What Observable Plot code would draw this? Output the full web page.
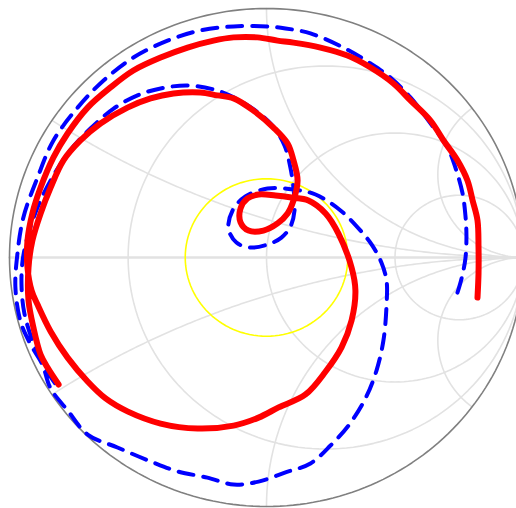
<!DOCTYPE html>
<html>
<head>
<meta charset="utf-8">
<script src="https://cdn.jsdelivr.net/npm/d3@7"></script>
<script src="https://cdn.jsdelivr.net/npm/@observablehq/plot@0.6"></script>
<style>
html, body { margin: 0; padding: 0; background: #fff; overflow: hidden; }
#chart svg { overflow: hidden; display: block; }
</style>
</head>
<body>
<div id="chart"></div>
<script>
const redRe = [0.821,0.825,0.825,0.821,0.802,0.782,0.743,0.689,0.638,0.560,0.494,0.405,0.315,0.210,0.105,0.043,-0.035,-0.128,-0.206,-0.307,-0.412,-0.518,-0.607,-0.696,-0.774,-0.829,-0.879,-0.911,-0.930,-0.930,-0.914,-0.891,-0.840,-0.774,-0.696,-0.626,-0.541,-0.412,-0.268,-0.128,-0.031,0.047,0.152,0.230,0.292,0.331,0.346,0.331,0.280,0.230,0.163,0.097,0.035,-0.031,-0.074,-0.101,-0.101,-0.070,-0.012,0.043,0.082,0.105,0.121,0.105,0.082,0.027,-0.051,-0.128,-0.191,-0.257,-0.362,-0.451,-0.541,-0.646,-0.724,-0.790,-0.840,-0.879,-0.911,-0.926,-0.926,-0.907,-0.879,-0.852,-0.809];
const redIm = [-0.161,-0.064,0.040,0.149,0.229,0.309,0.390,0.470,0.550,0.631,0.699,0.763,0.811,0.843,0.863,0.871,0.884,0.884,0.871,0.843,0.803,0.751,0.683,0.602,0.498,0.402,0.281,0.177,0.068,-0.040,-0.133,-0.189,-0.297,-0.402,-0.498,-0.566,-0.618,-0.667,-0.687,-0.675,-0.643,-0.602,-0.550,-0.458,-0.361,-0.253,-0.133,-0.040,0.096,0.177,0.229,0.241,0.249,0.253,0.237,0.197,0.141,0.108,0.108,0.137,0.177,0.229,0.309,0.390,0.458,0.522,0.590,0.639,0.651,0.663,0.659,0.639,0.602,0.538,0.470,0.390,0.281,0.177,0.068,-0.040,-0.173,-0.281,-0.390,-0.442,-0.510];

const blueRe = [0.743,0.759,0.774,0.778,0.774,0.763,0.735,0.704,0.630,0.560,0.482,0.405,0.307,0.171,0.074,0.004,-0.128,-0.257,-0.385,-0.518,-0.634,-0.735,-0.829,-0.891,-0.946,-0.969,-0.977,-0.957,-0.918,-0.872,-0.840,-0.774,-0.696,-0.580,-0.451,-0.346,-0.230,-0.128,-0.031,0.074,0.171,0.249,0.319,0.385,0.428,0.455,0.467,0.467,0.447,0.412,0.366,0.288,0.191,0.105,0.004,-0.082,-0.132,-0.148,-0.117,-0.062,0.004,0.058,0.093,0.109,0.105,0.093,0.070,0.023,-0.043,-0.128,-0.206,-0.307,-0.412,-0.502,-0.595,-0.685,-0.770,-0.840,-0.891,-0.926,-0.949,-0.953,-0.942,-0.911,-0.872,-0.817];
const blueIm = [-0.141,-0.084,-0.004,0.088,0.169,0.257,0.361,0.442,0.550,0.643,0.723,0.779,0.839,0.900,0.920,0.928,0.928,0.912,0.871,0.803,0.711,0.602,0.470,0.321,0.161,0.016,-0.120,-0.257,-0.349,-0.430,-0.526,-0.614,-0.711,-0.763,-0.819,-0.859,-0.884,-0.912,-0.900,-0.863,-0.827,-0.755,-0.675,-0.566,-0.454,-0.333,-0.193,-0.092,-0.020,0.048,0.108,0.189,0.253,0.273,0.277,0.245,0.189,0.116,0.060,0.040,0.052,0.080,0.124,0.189,0.277,0.361,0.450,0.530,0.590,0.643,0.675,0.691,0.679,0.651,0.598,0.518,0.422,0.309,0.201,0.096,-0.012,-0.120,-0.225,-0.333,-0.426,-0.514];

// Smith chart grid values
const resistanceValues = [0.3, 1, 3];
const reactanceValues = [0.3, 1, 3];
const returnLossDb = 10;

const red = redRe.map((re, i) => ({re, im: redIm[i]}));
const blue = blueRe.map((re, i) => ({re, im: blueIm[i]}));

function circlePts(cx, cy, rad, id, n = 180) {
  return d3.range(n + 1).map(k => {
    const a = 2 * Math.PI * k / n;
    return {re: cx + rad * Math.cos(a), im: cy + rad * Math.sin(a), id};
  });
}
function gammaOf(r, x) {
  const a = r - 1, c = r + 1;
  const den = c * c + x * x;
  return [(a * c + x * x) / den, (x * c - a * x) / den];
}
const grid = [];
resistanceValues.forEach(r => grid.push(...circlePts(r / (1 + r), 0, 1 / (1 + r), "r" + r)));
reactanceValues.forEach(x => {
  [x, -x].forEach(xx => {
    d3.range(201).forEach(k => {
      const s = k / 200;
      let g = s === 1 ? [1, 0] : gammaOf(s / (1 - s) * 1, xx);
      grid.push({re: g[0], im: g[1], id: "x" + xx});
    });
  });
});
const axisLine = [{re: -1, im: 0}, {re: 1, im: 0}];
const rim = circlePts(0, 0, 1, "rim", 240);
const rlRadius = Math.pow(10, -returnLossDb / 20);
const rlCircle = circlePts(0, 0, rlRadius, "rl", 120);

const chart = Plot.plot({
  width: 516,
  height: 508,
  margin: 0,
  x: {domain: [-1, 1], range: [9, 523], axis: null},
  y: {domain: [-1, 1], range: [506, 8], axis: null},
  marks: [
    Plot.line(grid, {x: "re", y: "im", z: "id", stroke: "#e2e2e2", strokeWidth: 1.6}),
    Plot.line(axisLine, {x: "re", y: "im", stroke: "#e2e2e2", strokeWidth: 2.4}),
    Plot.line(rim, {x: "re", y: "im", stroke: "#808080", strokeWidth: 1.6}),
    Plot.line(rlCircle, {x: "re", y: "im", stroke: "yellow", strokeWidth: 1.6}),
    Plot.line(blue, {x: "re", y: "im", stroke: "blue", strokeWidth: 4, strokeDasharray: "15,10", curve: "catmull-rom"}),
    Plot.line(red, {x: "re", y: "im", stroke: "red", strokeWidth: 6, strokeLinejoin: "round", strokeLinecap: "round", curve: "catmull-rom"})
  ]
});
document.getElementById("chart").appendChild(chart);
</script>
</body>
</html>
